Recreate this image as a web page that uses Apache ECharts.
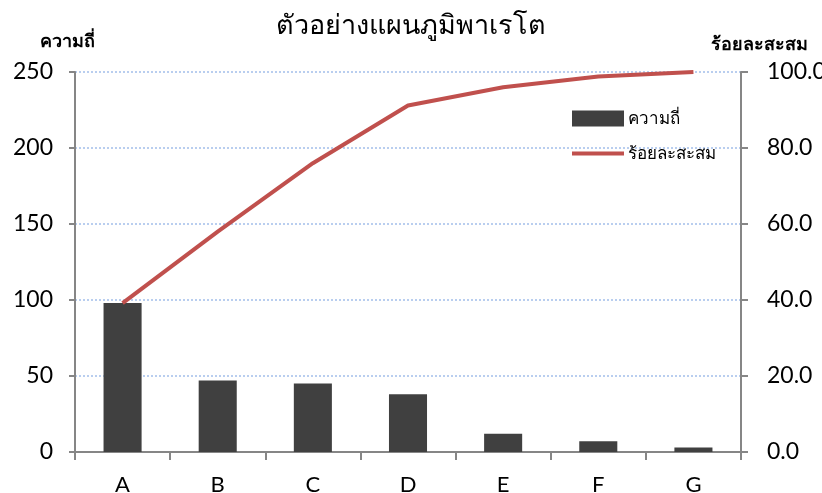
<!DOCTYPE html>
<html>
<head>
<meta charset="utf-8">
<script src="https://cdn.jsdelivr.net/npm/echarts@6/dist/echarts.min.js"></script>
<style>
  html, body { margin: 0; padding: 0; background: #fff; }
  #chart { width: 822px; height: 493px; }
</style>
</head>
<body>
<div id="chart"></div>
<script>
// Pareto chart: frequency bars with the cumulative percentage line
const categories = ['A', 'B', 'C', 'D', 'E', 'F', 'G'];
const frequency = [98, 47, 45, 38, 12, 7, 3];
const cumulativePercent = [39.2, 58.0, 76.0, 91.2, 96.0, 98.8, 100.0];
const leftTicks = { min: 0, max: 250, interval: 50 };
const rightTicks = { min: 0, max: 100, interval: 20 };

const labelFont = 'Lato, "Noto Sans", sans-serif';
const axisGrey = '#868686';

const chart = echarts.init(document.getElementById('chart'), null, { renderer: 'canvas' });
chart.setOption({
  animation: false,
  backgroundColor: '#ffffff',
  title: {
    text: 'ตัวอย่างแผนภูมิพาเรโต',
    left: 'center',
    top: 8,
    textStyle: { fontSize: 27, fontWeight: 'normal', color: '#000', fontFamily: 'serif' }
  },
  // axis captions above each value axis
  graphic: [
    {
      type: 'text', left: 40, top: 32,
      style: { text: 'ความถี่', fontSize: 18, fontWeight: 'bold', fill: '#000', fontFamily: labelFont }
    },
    {
      type: 'text', left: 711, top: 35,
      style: { text: 'ร้อยละสะสม', fontSize: 18, fontWeight: 'bold', fill: '#000', fontFamily: labelFont }
    }
  ],
  legend: {
    orient: 'vertical',
    left: 572,
    top: 110,
    padding: 0,
    itemGap: 18,
    itemWidth: 52,
    itemHeight: 16,
    textStyle: { fontSize: 17, color: '#000', fontFamily: labelFont, padding: [0, 0, 0, -1] },
    data: [
      { name: 'ความถี่', icon: 'rect' },
      { name: 'ร้อยละสะสม', icon: 'path://M0,6 L53,6 L53,10 L0,10 Z' }
    ]
  },
  grid: { left: 75, right: 81, top: 72, bottom: 41, containLabel: false, outerBoundsMode: 'none' },
  xAxis: {
    type: 'category',
    data: categories,
    boundaryGap: true,
    axisLine: { show: true, lineStyle: { color: axisGrey, width: 2 } },
    axisTick: { show: true, interval: 0, length: 8, lineStyle: { color: axisGrey, width: 2 } },
    axisLabel: { fontSize: 22, color: '#000', margin: 22, fontFamily: labelFont }
  },
  yAxis: [
    {
      type: 'value',
      min: leftTicks.min,
      max: leftTicks.max,
      interval: leftTicks.interval,
      axisLine: { show: true, lineStyle: { color: axisGrey, width: 2 } },
      axisTick: { show: true, length: 6, lineStyle: { color: axisGrey, width: 2 } },
      axisLabel: { fontSize: 23, color: '#000', margin: 22, fontFamily: labelFont },
      splitLine: { show: true, lineStyle: { color: '#A3BEEA', type: [2, 2], width: 1.5 } }
    },
    {
      type: 'value',
      position: 'right',
      min: rightTicks.min,
      max: rightTicks.max,
      interval: rightTicks.interval,
      axisLine: { show: true, lineStyle: { color: axisGrey, width: 2 } },
      axisTick: { show: true, length: 7, lineStyle: { color: axisGrey, width: 2 } },
      axisLabel: {
        fontSize: 23, color: '#000', margin: 26, fontFamily: labelFont,
        formatter: v => v.toFixed(1)
      },
      splitLine: { show: false }
    }
  ],
  series: [
    {
      name: 'ความถี่',
      type: 'bar',
      data: frequency,
      barWidth: '40%',
      itemStyle: { color: '#404040' }
    },
    {
      name: 'ร้อยละสะสม',
      type: 'line',
      yAxisIndex: 1,
      data: cumulativePercent,
      showSymbol: false,
      symbol: 'none',
      lineStyle: { color: '#C0504D', width: 4 },
      itemStyle: { color: '#C0504D' }
    }
  ]
});
</script>
</body>
</html>
